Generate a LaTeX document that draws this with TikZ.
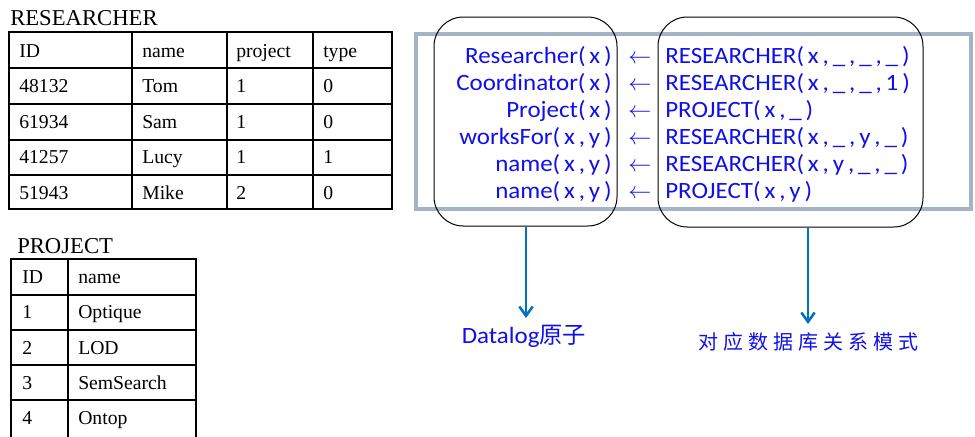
\documentclass[tikz,border=0pt]{standalone}
\usepackage{fontspec}
\setmainfont{Liberation Serif}
\newfontfamily\mapfont{Carlito}[FakeStretch=1.07]
\newfontfamily\cjkfont{Noto Sans CJK SC}
\usetikzlibrary{arrows.meta}
\definecolor{txtblue}{RGB}{15,15,235}
\definecolor{arrblue}{RGB}{0,112,192}
\definecolor{framegray}{RGB}{165,180,196}
\newcommand\mysep{\,,\,}
\newcommand\myl{(\,}
\newcommand\myr{\,)}
\begin{document}
\begin{tikzpicture}[x=0.75pt,y=-0.75pt,
  cell/.style={anchor=base west, inner sep=0pt, font=\fontsize{14.75}{17}\selectfont},
  ttl/.style={anchor=base west, inner sep=0pt, font=\fontsize{17}{20}\selectfont},
  lhs/.style={anchor=base east, inner sep=0pt, text=txtblue, font=\mapfont\fontsize{17.5}{20}\selectfont},
  rhs/.style={anchor=base west, inner sep=0pt, text=txtblue, font=\mapfont\fontsize{17.5}{20}\selectfont},
  larr/.style={anchor=base, inner sep=0pt, text=txtblue, font=\fontsize{18.5}{20}\selectfont},
  grp/.style={draw=black, line width=0.75pt, rounded corners=22pt, inner sep=0pt},
  lk/.style={draw=arrblue, line width=1.9pt, -{Straight Barb[length=7pt,width=10pt]}},
  tline/.style={line width=0.9pt},
  lab/.style={inner sep=0pt, text=txtblue}
]
\useasboundingbox (0,0) rectangle (975,436);

% ---------- RESEARCHER table ----------
\node[ttl] (t1) at (10,25) {RESEARCHER};
\draw[tline] (9,32) rectangle (392,209);
\foreach \xx in {132,227,313} \draw[tline] (\xx,32) -- (\xx,209);
\foreach \yy in {68,104,140,175} \draw[tline] (9,\yy) -- (392,\yy);
\foreach \r/\a/\b/\c/\d [count=\i] in {%
  {ID}/{name}/{project}/{type},
  48132/Tom/1/0,
  61934/Sam/1/0,
  41257/Lucy/1/1,
  51943/Mike/2/0}{
  \pgfmathsetmacro\by{32+(\i-1)*35.4+25.5}
  \node[cell] (ra\i) at (19,\by) {\r};
  \node[cell] (rb\i) at (142,\by) {\a};
  \node[cell] (rc\i) at (236,\by) {\b};
  \node[cell] (rd\i) at (323,\by) {\c};
}

% ---------- PROJECT table ----------
\node[ttl] (t2) at (17,253) {PROJECT};
\draw[tline] (11,440) -- (11,259) -- (196,259) -- (196,440);
\draw[tline] (68,259) -- (68,440);
\foreach \yy in {295,330,365,400} \draw[tline] (11,\yy) -- (196,\yy);
\foreach \r/\a [count=\i] in {ID/name,1/Optique,2/LOD,3/SemSearch,4/Ontop}{
  \pgfmathsetmacro\by{259+(\i-1)*35.25+24.5}
  \node[cell] (pa\i) at (22,\by) {\r};
  \node[cell] (pb\i) at (78,\by) {\a};
}

% ---------- mapping frame ----------
\draw[framegray, line width=2.4pt] (416,34) rectangle (971,209);

\foreach \l/\rr [count=\i] in {%
  {Researcher\myl x\myr}/{RESEARCHER\myl x\mysep\_\mysep\_\mysep\_\myr},
  {Coordinator\myl x\myr}/{RESEARCHER\myl x\mysep\_\mysep\_\mysep 1\myr},
  {Project\myl x\myr}/{PROJECT\myl x\mysep\_\myr},
  {worksFor\myl x\mysep y\myr}/{RESEARCHER\myl x\mysep\_\mysep y\mysep\_\myr},
  {name\myl x\mysep y\myr}/{RESEARCHER\myl x\mysep y\mysep\_\mysep\_\myr},
  {name\myl x\mysep y\myr}/{PROJECT\myl x\mysep y\myr}}{
  \pgfmathsetmacro\by{63+(\i-1)*27}
  \node[lhs] (l\i) at (612,\by) {\l};
  \node[larr] (a\i) at (640,\by) {$\leftarrow$};
  \node[rhs] (m\i) at (665,\by) {\rr};
}

% ---------- grouping boxes ----------
\node[grp, minimum width=137.25pt, minimum height=156.75pt] (lbox) at (525.5,121.5) {};
\node[grp, minimum width=198.75pt, minimum height=157.5pt] (rbox) at (790.5,122) {};

% ---------- labels & arrows ----------
\coordinate (lend) at (526,318);
\coordinate (rend) at (808,324);
\node[lab, font=\mapfont\fontsize{17.5}{20}\selectfont] (dl) at (524,336) {Datalog{\cjkfont 原子}};
\node[lab, font=\cjkfont\fontsize{15}{18}\selectfont] (sc) at (808,342) {\addfontfeature{LetterSpace=25}对应数据库关系模式};
\draw[lk] (lbox.south -| lend) -- (lend);
\draw[lk] (rbox.south -| rend) -- (rend);
\end{tikzpicture}
\end{document}
